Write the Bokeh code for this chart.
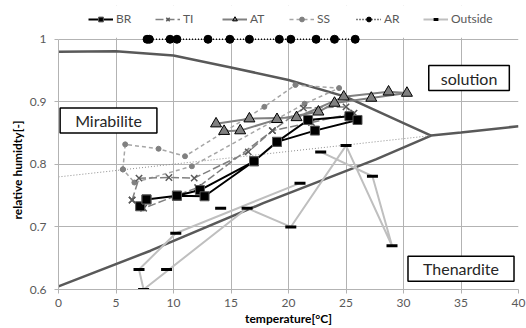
from bokeh.plotting import figure
from bokeh.models import Range1d, Legend, LegendItem, Label, FixedTicker, BoxAnnotation, Title
from bokeh.embed import file_html
from bokeh.resources import INLINE

nan = float("nan")

# phase boundary curves
mir_sol_T = [0, 5, 10, 15, 20, 25, 30, 32.4]
mir_sol_RH = [0.980, 0.981, 0.974, 0.955, 0.935, 0.908, 0.866, 0.846]
mir_then_T = [0, 8, 17.8, 27.6, 32.4, 35, 40]
mir_then_RH = [0.605, 0.662, 0.738, 0.808, 0.846, 0.851, 0.861]
meta_T = [0, 32.4]
meta_RH = [0.78, 0.846]

# measured series
BR_T = [7.1, 7.65, 10.3, 12.3, 17.0, 19.0, 21.7, 25.3, 26.0, 22.3, 19.0, 17.0, 12.7, 10.3, 7.65]
BR_RH = [0.733, 0.744, 0.750, 0.759, 0.805, 0.836, 0.871, 0.877, 0.871, 0.854, 0.836, 0.805, 0.749, 0.750, 0.744]

TI_T = [6.4, 7.0, 9.6, 11.8, 16.5, 18.6, 21.3, 25.0, 25.7, 22.0, 18.6, 12.1, 7.4, 6.4]
TI_RH = [0.743, 0.778, 0.779, 0.778, 0.820, 0.854, 0.890, 0.892, 0.882, 0.867, 0.854, 0.763, 0.730, 0.743]

AT_T = [13.7, 16.6, 20.7, 24.8, 28.7, 30.3, 27.2, 24.0, 22.6, 19.0, 15.8, 14.4]
AT_RH = [0.865, 0.873, 0.875, 0.908, 0.916, 0.914, 0.906, 0.898, 0.884, 0.872, 0.854, 0.853]

SS_T = [5.6, 5.8, 8.7, 11.0, 17.9, 20.6, 24.4, 21.4, 11.6, 6.6, 5.6]
SS_RH = [0.792, 0.832, 0.825, 0.813, 0.892, 0.927, 0.922, 0.897, 0.797, 0.771, 0.792]

AR_T = [7.7, 7.9, 9.7, 10.3, 13.0, 14.9, 16.6, 19.2, 20.2, 22.4, 24.0, 25.8]
AR_RH = [1.0, 1.0, 1.0, 1.0, 1.0, 1.0, 1.0, 1.0, 1.0, 1.0, 1.0, 1.0]

OUT_T = [9.4, nan, 14.1, nan, 22.8, 27.3, 29.0, 25.0, 20.2, 16.4, 7.4, 7.0, 10.2, 21.0]
OUT_RH = [0.632, nan, 0.730, nan, 0.820, 0.781, 0.670, 0.830, 0.700, 0.730, 0.600, 0.632, 0.690, 0.770]

x_ticks = [0, 5, 10, 15, 20, 25, 30, 35, 40]
y_ticks = [0.6, 0.7, 0.8, 0.9, 1.0]

FONT = "Lato"
GRID = "#b3b3b3"
TXT = "#595959"
# headroom above 1.0: holds the AR markers uncut and the legend (covered white)
Y_TOP = 1.054

p = figure(width=526, height=328, x_range=Range1d(0, 40), y_range=Range1d(0.6, Y_TOP),
           output_backend="svg", toolbar_location=None,
           min_border_left=58, min_border_right=8, min_border_top=5, min_border_bottom=37)
p.outline_line_color = None
p.background_fill_color = "white"

for ax in (p.xaxis[0], p.yaxis[0]):
    ax.axis_line_color = GRID
    ax.major_tick_line_color = GRID
    ax.major_tick_out = 4
    ax.major_tick_in = 0
    ax.minor_tick_line_color = None
    ax.major_label_text_color = TXT
    ax.major_label_text_font = FONT
    ax.major_label_text_font_size = "12px"
    ax.axis_label_text_font = FONT
    ax.axis_label_text_font_style = "bold"
    ax.axis_label_text_font_size = "12px"
    ax.axis_label_text_color = "#000000"

p.xaxis[0].ticker = FixedTicker(ticks=x_ticks)
p.yaxis[0].ticker = FixedTicker(ticks=y_ticks)
p.yaxis[0].bounds = (0.6, 1.0)
p.yaxis[0].major_label_overrides = {1.0: "1"}
p.xaxis[0].major_label_standoff = 5
p.yaxis[0].major_label_standoff = 8
p.xaxis[0].axis_label = "temperature[°C]"
p.xaxis[0].axis_label_standoff = 1

# y-axis title as a side title, placed from the bottom so it sits mid 0.6-1.0 span
p.add_layout(Title(text="relative humidty[-]", align="left", offset=70,
                   text_font=FONT, text_font_size="12px", text_font_style="bold",
                   text_color="#000000", standoff=3), "left")

p.xgrid[0].ticker = FixedTicker(ticks=x_ticks)
p.ygrid[0].ticker = FixedTicker(ticks=y_ticks)
for g in (p.xgrid[0], p.ygrid[0]):
    g.grid_line_color = GRID
    g.grid_line_width = 1

# white cover over the headroom above 1.0 (hides grid line stubs there)
p.add_layout(BoxAnnotation(bottom=1.0025, fill_color="white", fill_alpha=1.0,
                           line_color=None, level="underlay"))

# phase diagram curves
p.line(mir_sol_T, mir_sol_RH, line_color="#595959", line_width=2.5)
p.line(mir_then_T, mir_then_RH, line_color="#595959", line_width=2.5)
p.line(meta_T, meta_RH, line_color="#8c8c8c", line_width=1, line_dash="1 2")

# Outside
r_out_l = p.line(OUT_T, OUT_RH, line_color="#bfbfbf", line_width=2)
r_out_m = p.scatter(OUT_T, OUT_RH, marker="dash", size=11, line_color="black", line_width=3)

# SS
r_ss_l = p.line(SS_T, SS_RH, line_color="#a6a6a6", line_width=1.5, line_dash="4 3")
r_ss_m = p.scatter(SS_T, SS_RH, marker="circle", size=5, fill_color="#808080", line_color="#808080")

# TI
r_ti_l = p.line(TI_T, TI_RH, line_color="#808080", line_width=1.5, line_dash="8 3")
r_ti_m = p.scatter(TI_T, TI_RH, marker="x", size=9, line_color="#595959", line_width=1.5)

# AT
r_at_l = p.line(AT_T, AT_RH, line_color="#808080", line_width=2)
r_at_m = p.scatter(AT_T, AT_RH, marker="triangle", size=11, fill_color="#808080", line_color="#000000", line_width=1)

# BR
r_br_l = p.line(BR_T, BR_RH, line_color="#000000", line_width=2)
r_br_m = p.scatter(BR_T, BR_RH, marker="square", size=9, fill_color="#000000", line_color="#595959", line_width=1)

# AR
r_ar_l = p.line(AR_T, AR_RH, line_color="#000000", line_width=1.5, line_dash="1 2")
r_ar_m = p.scatter(AR_T, AR_RH, marker="circle", size=8, fill_color="#000000", line_color="#000000")

# region labels
def box(x, y, text, pad):
    lab = Label(x=x, y=y, text=text, text_align="center", text_baseline="middle",
                text_font=FONT, text_font_size="16px", text_color="#262626",
                border_line_color="#000000", border_line_width=1.5,
                background_fill_color="white", padding=pad)
    p.add_layout(lab)

box(4.35, 0.870, "Mirabilite", (15, 3))
box(35.7, 0.938, "solution", (12, 3))
box(35.0, 0.633, "Thenardite", (15, 3))

# legend inside the (white) headroom; location = (left, bottom) in px from frame bottom-left
legend = Legend(items=[
    LegendItem(label="BR", renderers=[r_br_l, r_br_m]),
    LegendItem(label="TI", renderers=[r_ti_l, r_ti_m]),
    LegendItem(label="AT", renderers=[r_at_l, r_at_m]),
    LegendItem(label="SS", renderers=[r_ss_l, r_ss_m]),
    LegendItem(label="AR", renderers=[r_ar_l, r_ar_m]),
    LegendItem(label="Outside", renderers=[r_out_l, r_out_m]),
], orientation="horizontal", location=(30, 263), padding=0, margin=0, spacing=19,
    glyph_width=25, glyph_height=12, label_standoff=3,
    label_text_font=FONT, label_text_font_size="12px", label_text_color=TXT,
    border_line_alpha=0, background_fill_alpha=0)
p.add_layout(legend, "center")

open("out.html", "w").write(file_html(p, INLINE))
